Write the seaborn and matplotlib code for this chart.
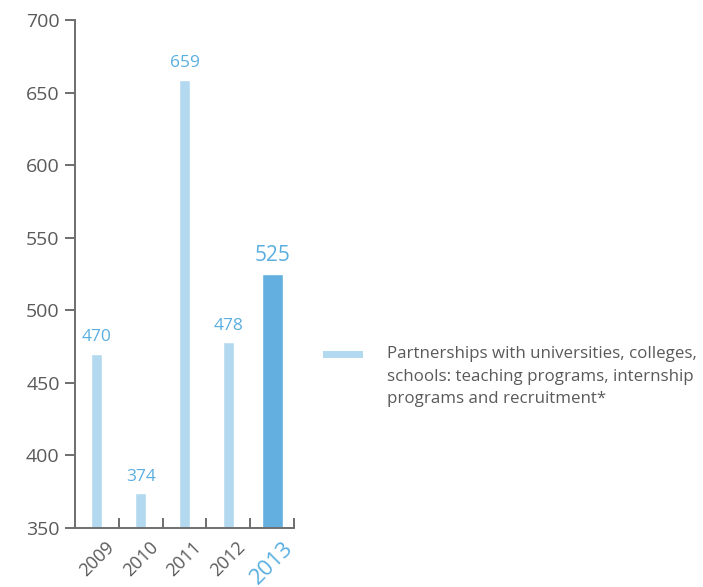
import matplotlib
matplotlib.use("Agg")
import matplotlib.pyplot as plt
import matplotlib.patches as mpatches
from matplotlib.ticker import FixedLocator
import seaborn as sns
import pandas as pd

years = ["2009", "2010", "2011", "2012", "2013"]
values = [470, 374, 659, 478, 525]
legend_label = ("Partnerships with universities, colleges,\n"
                "schools: teaching programs, internship\n"
                "programs and recruitment*")

LIGHT = "#b3d9f0"
DARK = "#62afe0"
LABEL_BLUE = "#5aaee0"
GREY = "#5a5a5a"
AXIS = "#6e6e6e"

sns.set_theme(style="white")
plt.rcParams["font.family"] = ["Open Sans", "DejaVu Sans"]

df = pd.DataFrame({"year": years, "value": values})
palette = {y: (DARK if y == years[-1] else LIGHT) for y in years}

W, H = 703, 587
fig = plt.figure(figsize=(W / 100, H / 100), dpi=100)
ax = fig.add_axes([75 / W, 1 - 528 / H, 219 / W, 508 / H])

sns.barplot(data=df, x="year", y="value", hue="year", palette=palette,
            width=0.25, legend=False, ax=ax, saturation=1)

# latest year drawn as a wider bar
last = ax.patches[-1]
cx = last.get_x() + last.get_width() / 2
last.set_width(0.48)
last.set_x(cx - 0.24)

ax.set_ylim(350, 700)
ax.set_xlim(-0.5, 4.5)
ax.set_yticks([350, 400, 450, 500, 550, 600, 650, 700])
ax.set_xlabel("")
ax.set_ylabel("")

for s in ["top", "right"]:
    ax.spines[s].set_visible(False)
for s in ["left", "bottom"]:
    ax.spines[s].set_color(AXIS)
    ax.spines[s].set_linewidth(1.4)

ax.tick_params(axis="y", direction="out", length=7, width=1.4, color=AXIS,
               labelsize=14, labelcolor=GREY, pad=4, left=True)
ax.tick_params(axis="x", which="major", length=0, pad=7)
ax.xaxis.set_minor_locator(FixedLocator([0.5, 1.5, 2.5, 3.5, 4.5]))
ax.tick_params(axis="x", which="minor", direction="in", length=7, width=1.4,
               color=AXIS, bottom=True)

for i, lab in enumerate(ax.get_xticklabels()):
    lab.set_rotation(45)
    lab.set_ha("center")
    if i == len(years) - 1:
        lab.set_fontsize(16)
        lab.set_color(LABEL_BLUE)
    else:
        lab.set_fontsize(13)
        lab.set_color(GREY)

# value labels above bars
for i, (p, v) in enumerate(zip(ax.patches, values)):
    big = i == len(values) - 1
    ax.annotate(str(v), (p.get_x() + p.get_width() / 2, v),
                xytext=(0, 6), textcoords="offset points",
                ha="center", va="bottom", color=LABEL_BLUE,
                fontsize=15 if big else 12.5)

# legend key and text
fig.patches.append(mpatches.Rectangle((323 / W, 1 - 358 / H), 40 / W, 7 / H,
                                      transform=fig.transFigure,
                                      facecolor=LIGHT, edgecolor="none"))
fig.text(387 / W, 1 - 346 / H, legend_label, ha="left", va="top",
         fontsize=12.2, color=GREY, linespacing=1.55)

fig.savefig("out.png", dpi=100)
